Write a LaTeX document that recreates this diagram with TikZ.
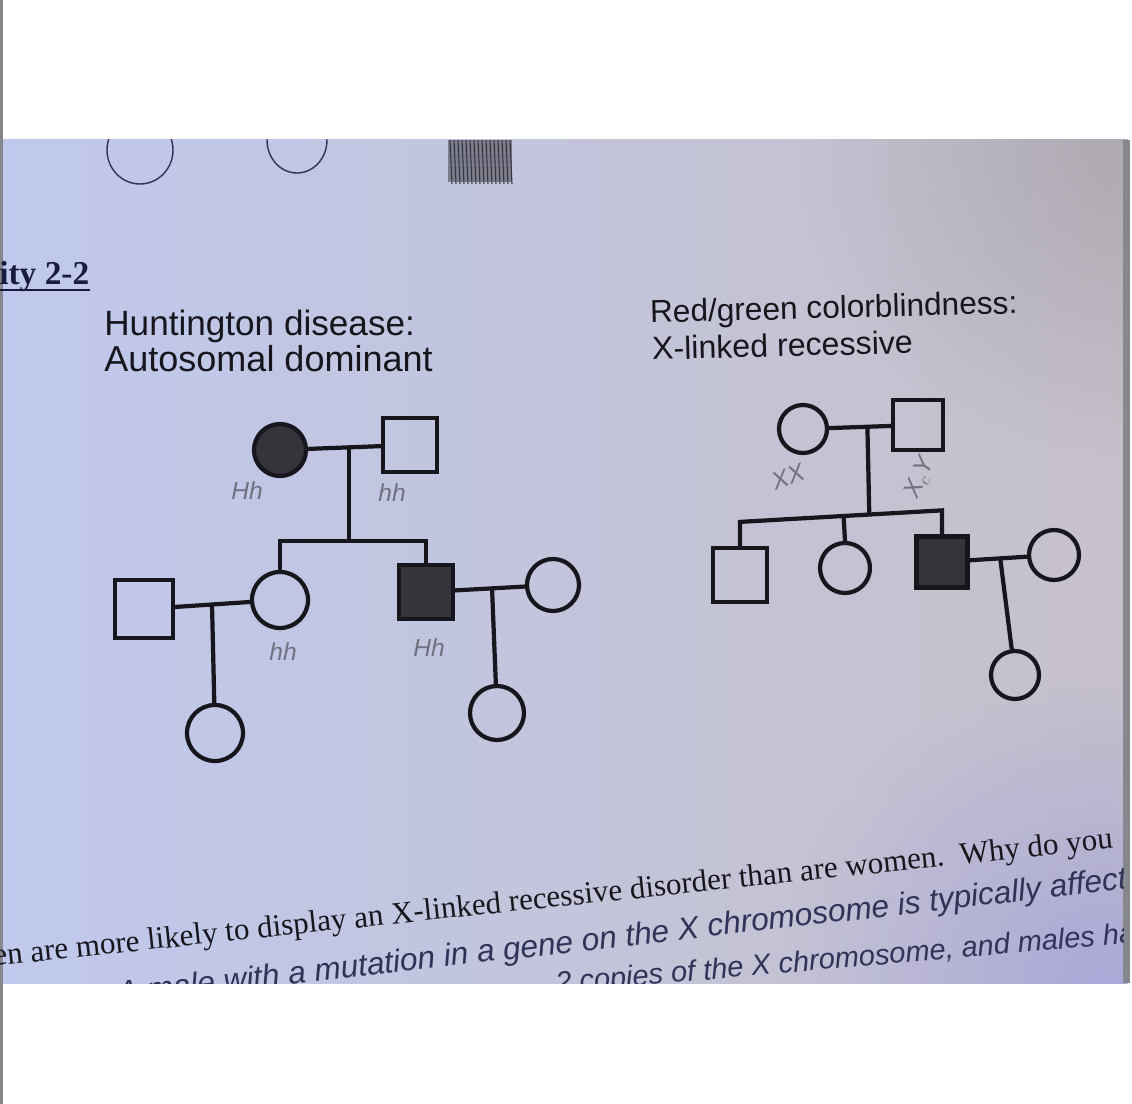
\documentclass[tikz,border=0pt]{standalone}
\usepackage{fontspec}
\setmainfont{Liberation Serif}
\setsansfont{Liberation Sans}
\usetikzlibrary{calc,fadings}
\tikzfading[name=glow,inner color=transparent!0,outer color=transparent!100]
\definecolor{cpaperl}{RGB}{192,200,237}
\definecolor{cpaperm}{RGB}{211,211,227}
\definecolor{cpaperr}{RGB}{198,193,202}
\definecolor{cshade}{RGB}{120,112,116}
\definecolor{clav}{RGB}{150,152,226}
\definecolor{cink}{RGB}{22,22,28}
\definecolor{cfill}{RGB}{52,52,58}
\definecolor{cpencil}{RGB}{112,112,126}
\definecolor{cpen}{RGB}{48,50,88}
\definecolor{cnavy}{RGB}{25,28,62}
\definecolor{cedge}{RGB}{135,135,142}

\tikzset{
  pline/.style={cink,line width=2.4pt},
  male/.style={draw=cink,line width=2.4pt,rectangle,minimum size=#1*0.02cm,inner sep=0pt},
  female/.style={draw=cink,line width=2.4pt,circle,minimum size=#1*0.02cm,inner sep=0pt},
  affected/.style={fill=cfill},
  geno/.style={cpencil,inner sep=0pt,font=\sffamily\itshape\fontsize{14}{14}\selectfont},
  hdg/.style={cink,inner sep=0pt,anchor=base west,font=\sffamily\fontsize{20}{20}\selectfont},
  hand/.style={cpen,inner sep=0pt,anchor=base west,font=\sffamily\itshape\fontsize{18}{18}\selectfont},
}

\begin{document}
\begin{tikzpicture}[x=0.02cm,y=-0.02cm]
\useasboundingbox (0,0) rectangle (1132,1104);
% ===================== paper =====================
\fill[white] (0,0) rectangle (1132,1104);
\shade[left color=cpaperl,middle color=cpaperm,right color=cpaperr] (0,140) rectangle (1128,983);
\begin{scope}
  \clip (0,140) rectangle (1128,983);
  % darker corner top right, bluish corner bottom right
  \fill[cshade,path fading=glow,opacity=0.3] (1128,140) circle (330);
  \fill[clav,path fading=glow,opacity=0.6] (1100,990) circle (320);
  % pen drawings cut by the top edge
  \draw[cpen,line width=0.8pt] (140,150) ellipse (33 and 34);
  \draw[cpen,line width=0.8pt] (297,140) ellipse (30 and 33);
  \fill[cfill,opacity=0.5] (448,140) rectangle (512,182);
  \foreach \x in {450,454,...,510}
    \draw[cfill,line width=0.6pt] (\x,140) -- (\x+2,184);
\end{scope}
\fill[cedge] (0,0) rectangle (3,1104);
\fill[cedge] (1123,140) rectangle (1130,983);
% ===================== headings =====================
\node[cnavy,inner sep=0pt,anchor=base west,font=\bfseries\fontsize{19}{19}\selectfont] (act) at (-1,285) {ity 2-2};
\draw[cnavy,line width=1.3pt] ($(act.base west)+(0,5)$) -- ($(act.base east)+(0,5)$);
\node[hdg] (hdtitle) at (104,336) {Huntington disease:};
\node[hdg,font=\sffamily\fontsize{20.5}{20.5}\selectfont] (hdsub) at (104,372) {Autosomal dominant};
\node[hdg,rotate=1.5,font=\sffamily\fontsize{18}{18}\selectfont] (cbtitle) at (650,323) {Red/green colorblindness:};
\node[hdg,rotate=1.5,font=\sffamily\fontsize{18.3}{18.3}\selectfont] (cbsub) at (652,360) {X-linked recessive};
% ===================== LEFT: Huntington pedigree =====================
\node[female=52,affected] (hdmom) at (280,450) {};
\node[male=54] (hddad) at (410,445) {};
\node[female=56] (hddau) at (280,600) {};
\node[male=54,affected] (hdson) at (426,592) {};
\node[male=58] (hdsp1) at (144,609) {};
\node[female=52] (hdsp2) at (553,585) {};
\node[female=56] (hdgc1) at (215,733) {};
\node[female=54] (hdgc2) at (497,713) {};
\coordinate (hdm) at ($(hdmom)!0.53!(hddad)$);
\coordinate (hds) at ($(hdm)+(0,94)$);
\coordinate (hdm2) at ($(hdsp1)!0.50!(hddau)$);
\coordinate (hdm3) at ($(hdson)!0.52!(hdsp2)$);
\draw[pline] (hdmom) -- (hddad);
\draw[pline] (hdm) -- (hds);
\draw[pline] (hddau.north) |- (hds) -| (hdson.north);
\draw[pline] (hdsp1) -- (hddau);
\draw[pline] (hdm2) -- (hdgc1);
\draw[pline] (hdson) -- (hdsp2);
\draw[pline] (hdm3) -- (hdgc2);
% pencil genotypes
\node[geno] (gmom) at (247,491) {Hh};
\node[geno] (gdad) at (392,493) {hh};
\node[geno] (gdau) at (283,652) {hh};
\node[geno] (gson) at (429,648) {Hh};
% ===================== RIGHT: colorblindness pedigree =====================
\node[female=48] (cbmom) at (803,429) {};
\node[male=50] (cbdad) at (918,425) {};
\node[male=54] (cbson1) at (740,575) {};
\node[female=50] (cbdau) at (845,568) {};
\node[male=51,affected] (cbson2) at (942,562) {};
\node[female=50] (cbsp) at (1054,555) {};
\node[female=48] (cbgc) at (1015,675) {};
\coordinate (cbm) at ($(cbmom)!0.56!(cbdad)$);
\coordinate (cbsl) at ($(cbson1.north)+(0,-24)$);
\coordinate (cbsr) at ($(cbson2.north)+(0,-24)$);
\coordinate (cbm2) at ($(cbson2)!0.52!(cbsp)$);
\draw[pline] (cbmom) -- (cbdad);
\draw[pline] (cbm) -- ($(cbsl)!0.64!(cbsr)$);
\draw[pline] (cbson1.north) -- (cbsl) -- (cbsr) -- (cbson2.north);
\draw[pline] (cbdau.north) -- ($(cbsl)!(cbdau.north)!(cbsr)$);
\draw[pline] (cbson2) -- (cbsp);
\draw[pline] (cbm2) -- (cbgc);
\node[geno,rotate=20] (gxx) at (788,477) {XX};
\node[geno,rotate=65] (gxy) at (920,478) {X$_{c}$Y};
% ===================== question and answer =====================
\begin{scope}
  \clip (0,140) rectangle (1123,983);
  \node[cink,inner sep=0pt,anchor=base west,rotate=6.0,font=\fontsize{17.7}{17.7}\selectfont] (qtext) at (-6,966)
    {en are more likely to display an X-linked recessive disorder than are women.\ \ Why do you};
  \node[hand,rotate=6.5] (ans1) at (118,1004) {A male with a mutation in a gene on the X chromosome is typically affect};
  \node[hand,rotate=5.0,font=\sffamily\itshape\fontsize{16.5}{16.5}\selectfont] (ans2) at (556,993) {2 copies of the X chromosome, and males ha};
\end{scope}
\end{tikzpicture}
\end{document}
